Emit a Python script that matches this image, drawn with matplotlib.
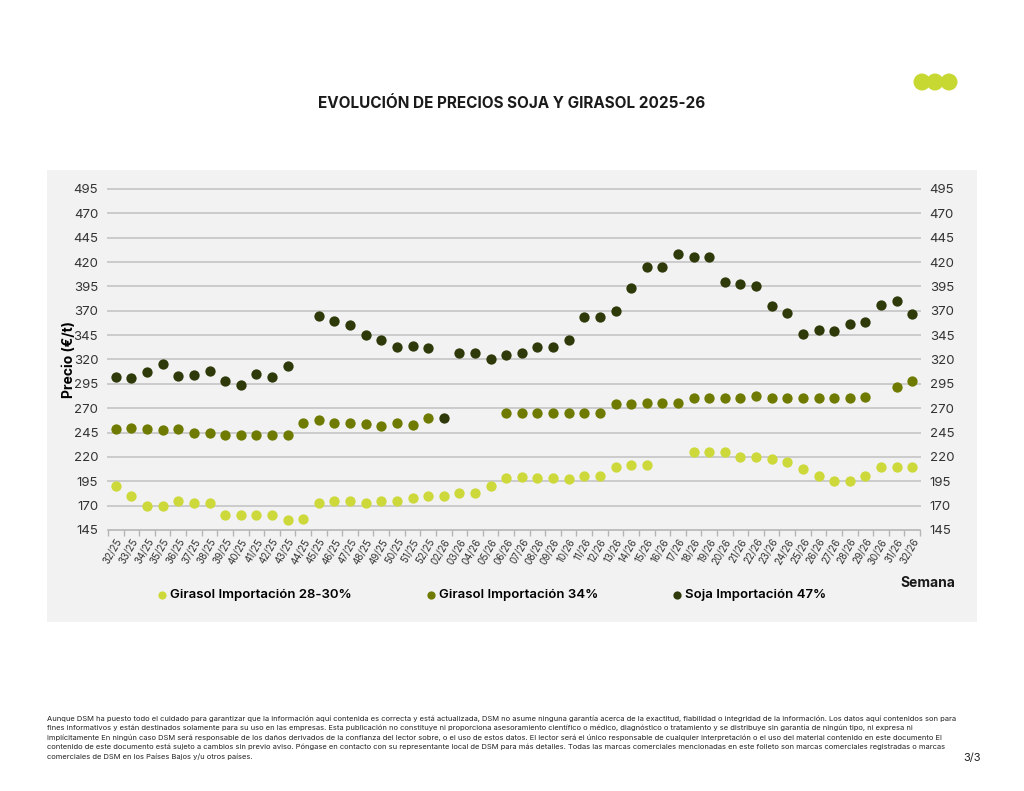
import numpy as np
import matplotlib
matplotlib.use('Agg')
import matplotlib.pyplot as plt
from matplotlib.patches import Rectangle, Circle
from matplotlib.transforms import IdentityTransform

plt.rcParams['font.family'] = ['Inter', 'DejaVu Sans']

nan = np.nan

semanas = ['32/25', '33/25', '34/25', '35/25', '36/25', '37/25', '38/25', '39/25', '40/25',
           '41/25', '42/25', '43/25', '44/25', '45/25', '46/25', '47/25', '48/25', '49/25',
           '50/25', '51/25', '52/25', '02/26', '03/26', '04/26', '05/26', '06/26', '07/26',
           '08/26', '09/26', '10/26', '11/26', '12/26', '13/26', '14/26', '15/26', '16/26',
           '17/26', '18/26', '19/26', '20/26', '21/26', '22/26', '23/26', '24/26', '25/26',
           '26/26', '27/26', '28/26', '29/26', '30/26', '31/26', '32/26']

girasol_28_30 = [190, 180, 170, 170, 175, 173, 173, 160, 160, 160, 160, 155, 156, 173, 175,
                 175, 173, 175, 175, 178, 180, 180, 183, 183, 190, 198, 199, 198, 198, 197,
                 200, 200, 210, 212, 212, nan, nan, 225, 225, 225, 220, 220, 218, 215, 208,
                 200, 195, 195, 200, 210, 210, 210]

girasol_34 = [249, 250, 249, 248, 249, 245, 245, 243, 243, 243, 242, 242, 255, 258, 255,
              255, 254, 252, 255, 253, 260, nan, nan, nan, nan, 265, 265, 265, 265, 265,
              265, 265, 274, 274, 275, 275, 275, 280, 280, 280, 280, 283, 280, 280, 280,
              280, 280, 280, 282, nan, 292, 298]

soja_47 = [302, 301, 307, 315, 303, 304, 308, 298, 294, 305, 302, 313, nan, 365, 360,
           355, 345, 340, 333, 334, 332, 260, 327, 327, 321, 325, 327, 333, 333, 340,
           364, 364, 370, 393, 415, 415, 428, 425, 425, 400, 397, 395, 375, 368, 346,
           350, 349, 356, 359, 376, 380, 367]

series = [
    ('Girasol Importación 28-30%', girasol_28_30, '#cdd93a'),
    ('Girasol Importación 34%', girasol_34, '#6e7b00'),
    ('Soja Importación 47%', soja_47, '#2f3a0b'),
]

yticks = list(range(145, 496, 25))

fig = plt.figure(figsize=(10.24, 7.91), dpi=100)
fig.patch.set_facecolor('white')

# panel gris de fondo (detras de los ejes)
fig.patches.append(Rectangle((47 / 1024, 1 - 622 / 791), 930 / 1024, 452 / 791,
                             transform=fig.transFigure, facecolor='#f2f2f2',
                             edgecolor='none', zorder=-5))

ax = fig.add_axes([108 / 1024, 1 - 530 / 791, 812 / 1024, 341 / 791])
ax.set_facecolor('none')
ax.set_zorder(2)

x = np.arange(len(semanas))
for name, vals, col in series:
    ax.scatter(x, vals, s=55, color=col, label=name, zorder=3, linewidths=0)

ax.set_xlim(-0.5, len(semanas) - 0.5)
ax.set_ylim(145, 495)
ax.set_yticks(yticks)
for yv in yticks[1:]:
    ax.axhline(yv, color='#cbcbcb', lw=1.4, zorder=1, clip_on=False)

for s in ['top', 'right', 'left']:
    ax.spines[s].set_visible(False)
ax.spines['bottom'].set_color('#b5b5b5')
ax.spines['bottom'].set_linewidth(1.2)

ax.set_xticks(x)
ax.set_xticklabels(semanas, rotation=60, ha='right', rotation_mode='anchor',
                   fontsize=7, color='#333333')
ax.tick_params(axis='x', length=0, pad=5)
ax.set_xticks(np.arange(-0.5, len(semanas)), minor=True)
ax.tick_params(axis='x', which='minor', length=4, color='#b5b5b5', width=1)
ax.tick_params(axis='y', length=0, labelsize=9.5, labelcolor='#333333', pad=7,
               labelright=True)

ax.set_ylabel('Precio (€/t)', fontsize=10, fontweight='bold', labelpad=-2)

fig.text(928 / 1024, 1 - 583 / 791, 'Semana', ha='center', va='center',
         fontsize=10, fontweight='bold', color='#1a1a1a')

fig.legend(loc='center left', bbox_to_anchor=(158 / 1024, 1 - 595 / 791), ncol=3,
           frameon=False, handlelength=0.6, handletextpad=0.3, columnspacing=5.7,
           borderaxespad=0, borderpad=0, markerscale=0.8,
           prop={'weight': 'semibold', 'size': 9.5})

fig.text(512 / 1024, 1 - 103 / 791, 'EVOLUCIÓN DE PRECIOS SOJA Y GIRASOL 2025-26',
         ha='center', va='center', fontsize=11, fontweight='bold', color='#1a1a1a')

# logo de tres circulos (coordenadas en pixeles)
for cx in [922, 935, 949]:
    fig.patches.append(Circle((cx, 791 - 82), 8.5, transform=IdentityTransform(),
                              facecolor='#c8d833', edgecolor='none'))

aviso = ("Aunque DSM ha puesto todo el cuidado para garantizar que la información aquí contenida es correcta y está actualizada, DSM no asume ninguna garantía acerca de la exactitud, fiabilidad o integridad de la información. Los datos aquí contenidos son para\n"
         "fines informativos y están destinados solamente para su uso en las empresas. Esta publicación no constituye ni proporciona asesoramiento científico o médico, diagnóstico o tratamiento y se distribuye sin garantía de ningún tipo, ni expresa ni\n"
         "implícitamente En ningún caso DSM será responsable de los daños derivados de la confianza del lector sobre, o el uso de estos datos. El lector será el único responsable de cualquier interpretación o el uso del material contenido en este documento El\n"
         "contenido de este documento está sujeto a cambios sin previo aviso. Póngase en contacto con su representante local de DSM para más detalles. Todas las marcas comerciales mencionadas en este folleto son marcas comerciales registradas o marcas\n"
         "comerciales de DSM en los Países Bajos y/u otros países.")
fig.text(47 / 1024, 1 - 715 / 791, aviso, ha='left', va='top', fontsize=5.45,
         color='#222222', linespacing=1.55)
fig.text(972 / 1024, 1 - 758 / 791, '3/3', ha='center', va='center', fontsize=8,
         color='#222222')

fig.savefig('out.png', dpi=100)
